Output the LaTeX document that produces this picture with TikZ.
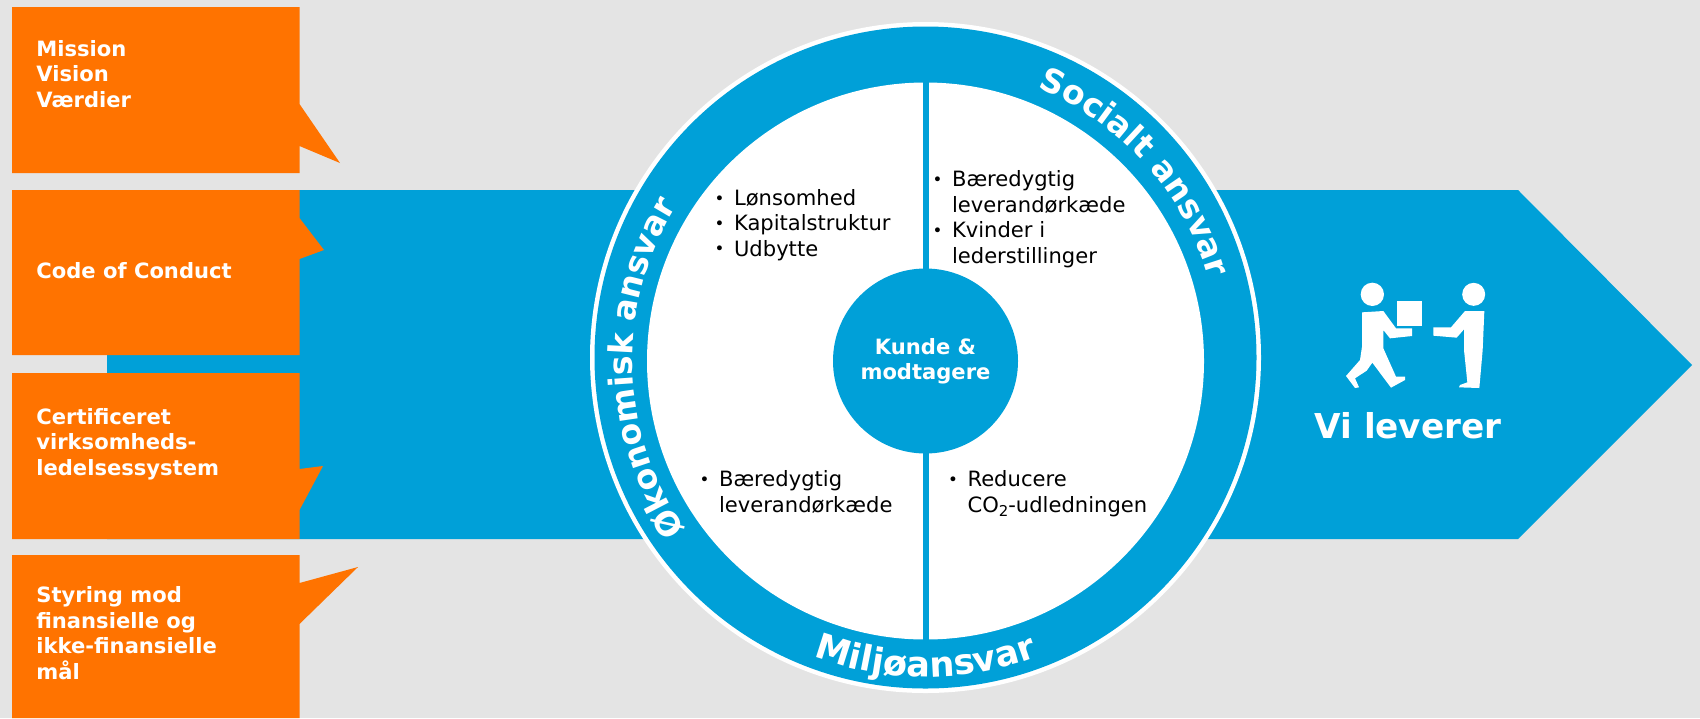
\documentclass[tikz,border=0pt]{standalone}
\usepackage{fontspec}
\setmainfont{DejaVu Sans}
\usetikzlibrary{decorations.text}
\definecolor{pagegray}{HTML}{E4E4E4}
\definecolor{arrowblue}{HTML}{00A0D8}
\definecolor{boxorange}{HTML}{FF7300}
\newcommand{\listdot}{\makebox[9.5pt][l]{\hspace{-1.5pt}\fontsize{9.5}{10}\selectfont\raisebox{0.6pt}{•}}}
\newcommand{\listgap}{\hspace*{9.5pt}}
\newcommand{\ringfont}{\fontsize{18.8}{20}\selectfont\bfseries}
\newcommand{\lowfont}{\fontsize{20}{22}\selectfont\bfseries}
\tikzset{
  orangebox/.style={fill=boxorange,draw=none},
  boxlabel/.style={font=\fontsize{12}{14.5}\selectfont\bfseries,text=white,align=left,anchor=base west,inner sep=0pt},
  listlabel/.style={font=\fontsize{12}{14.5}\selectfont,text=black,align=left,anchor=base west,inner sep=0pt},
  ringlabel/.style={decorate,decoration={text along path,text color=white,text align=center,text={#1}}},
}
\begin{document}
\begin{tikzpicture}[x=0.02cm,y=-0.02cm]
\useasboundingbox (0,0) rectangle (1700,718);
\fill[pagegray] (0,0) rectangle (1700,718);
\fill[arrowblue] (107,190) -- (1518,190) -- (1692,365) -- (1518,539) -- (107,539) -- cycle;

% callout boxes
\fill[orangebox] (12,7) -- (299.5,7) -- (299.5,104) -- (340,163) -- (299.5,146) -- (299.5,173) -- (12,173) -- cycle;
\fill[orangebox] (12,190) -- (299.5,190) -- (299.5,218) -- (324,250) -- (299.5,259) -- (299.5,355) -- (12,355) -- cycle;
\fill[orangebox] (12,373) -- (299.5,373) -- (299.5,469) -- (323,466) -- (299.5,510) -- (299.5,539) -- (12,539) -- cycle;
\fill[orangebox] (12,555) -- (299.5,555) -- (299.5,583) -- (358,567) -- (299.5,624) -- (299.5,718) -- (12,718) -- cycle;
\node[boxlabel] (mission) at (36,107) {Mission\\Vision\\Værdier};
\node[boxlabel] (conduct) at (36,278) {Code of Conduct};
\node[boxlabel] (certified) at (36,475) {Certificeret\\virksomheds-\\ledelsessystem};
\node[boxlabel] (steering) at (36,679) {Styring mod\\finansielle og\\ikke-finansielle\\mål};

% wheel
\fill[white] (925.5,357.5) circle (335.5);
\fill[arrowblue] (925.5,357.5) circle (331);
\fill[white] (925.5,361) circle (278.5);
\fill[arrowblue] (922.5,80) rectangle (928.5,642);
\fill[arrowblue] (925.5,361) circle (92.5);
\path[ringlabel={|\ringfont|Socialt ansvar}] (925.5,361) ++(-72:295) arc[start angle=-72,end angle=-12,radius=295];
\path[ringlabel={|\ringfont|Økonomisk ansvar}] (925.5,361) ++(-223.5:293) arc[start angle=-223.5,end angle=-139.5,radius=293];
\path[ringlabel={|\lowfont|Miljøansvar}] (925.5,361) ++(110:316) arc[start angle=110,end angle=70,radius=316];
\node[boxlabel,align=center,anchor=center] (customer) at (925.5,361) {Kunde \&\\modtagere};
\node[listlabel] (finance) at (717,256) {\listdot Lønsomhed\\\listdot Kapitalstruktur\\\listdot Udbytte};
\node[listlabel] (social) at (935,263) {\listdot Bæredygtig\\\listgap leverandørkæde\\\listdot Kvinder i\\\listgap lederstillinger};
\node[listlabel] (supply) at (702,512) {\listdot Bæredygtig\\\listgap leverandørkæde};
\node[listlabel] (climate) at (950.5,512) {\listdot Reducere\\\listgap CO\raisebox{-2.5pt}{\fontsize{8.5}{9}\selectfont 2}-udledningen};

% people
\begin{scope}[shift={(1290,250)},scale=1/3]
\fill[white] (247,133) circle (35);
\fill[white] (551,133) circle (34.5);
\fill[white] (320,153) rectangle (396,228);
\fill[white] (216,187) -- (280,183) -- (318,235) -- (366,235) -- (366,258) -- (300,265) -- (280,240) -- (280,295) -- (318,380) -- (345,380) -- (345,390) -- (303,413) -- (247,338) -- (230,362) -- (195,385) -- (207,412) -- (195,414) -- (168,378) -- (210,330) -- (216,290) -- cycle;
\fill[white] (583,183) -- (525,183) -- (483,232) -- (430,232) -- (430,257) -- (500,263) -- (522,238) -- (522,300) -- (532,397) -- (510,405) -- (507,412) -- (568,414) -- (578,300) -- cycle;
\end{scope}
\node[font=\fontsize{19.5}{22}\selectfont\bfseries,text=white,anchor=base,inner sep=0pt] (deliver) at (1408,438) {Vi leverer};
\end{tikzpicture}
\end{document}
